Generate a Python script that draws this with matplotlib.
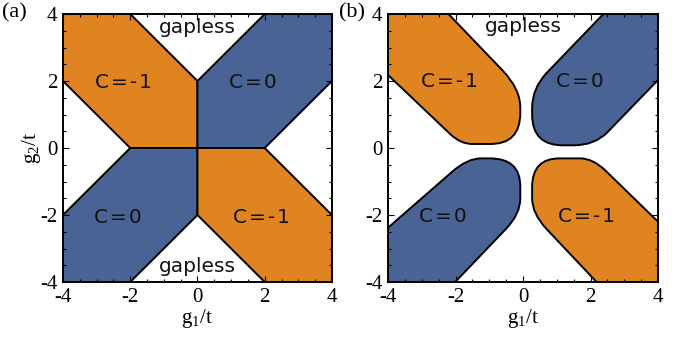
import numpy as np
import matplotlib
matplotlib.use("Agg")
import matplotlib.pyplot as plt
from matplotlib.path import Path
from matplotlib.patches import PathPatch

plt.rcParams['axes.unicode_minus'] = False
plt.rcParams['mathtext.fontset'] = 'custom'
plt.rcParams['mathtext.rm'] = 'Liberation Serif'
plt.rcParams['mathtext.it'] = 'Liberation Serif'

orange = '#E08421'
blue = '#4A6395'

# panel (a): phase regions, polygon corners in (g1/t, g2/t)
a_upper_left = [(-4, 4), (-2, 4), (0, 2), (0, 0), (-2, 0), (-4, 2)]
a_upper_right = [(0, 2), (2, 4), (4, 4), (4, 2), (2, 0), (0, 0)]
a_lower_left = [(-4, -2), (-2, 0), (0, 0), (0, -2), (-2, -4), (-4, -4)]
a_lower_right = [(0, 0), (2, 0), (4, -2), (4, -4), (2, -4), (0, -2)]

# panel (b): boundaries; a pair ((cx, cy), (x, y)) is a rounded corner
b_upper_left = [(-4, 4), (-2.21, 4), (-0.6, 2.31), ((-0.08, 1.76), (-0.08, 1.2)),
                (-0.08, 1.05), ((-0.08, 0.1), (-1.0, 0.12)), (-1.5, 0.12),
                ((-1.85, 0.12), (-2.15, 0.41)), (-4, 2.18)]
b_upper_right = [(4, 4), (4, 2.03), (2.5, 0.47), ((2.125, 0.08), (1.5, 0.08)),
                 (1.2, 0.08), ((0.27, 0.07), (0.27, 1.0)), (0.27, 1.2),
                 ((0.27, 1.78), (0.7, 2.24)), (2.38, 4)]
b_lower_left = [(-4, -4), (-4, -2.38), (-2.1, -0.71), ((-1.65, -0.31), (-1.25, -0.31)),
                (-1.0, -0.31), ((-0.08, -0.3), (-0.08, -1.15)), (-0.08, -1.5),
                ((-0.08, -1.97), (-0.5, -2.41)), (-2.01, -4)]
b_lower_right = [(4, -4), (2.18, -4), (0.7, -2.42), ((0.27, -1.96), (0.27, -1.5)),
                 (0.27, -1.15), ((0.28, -0.3), (1.1, -0.31)), (1.7, -0.31),
                 ((2.07, -0.31), (2.45, -0.68)), (4, -2.2)]

ticks = [-4, -2, 0, 2, 4]
minor_ticks = [-3.5, -3, -2.5, -1.5, -1, -0.5, 0.5, 1, 1.5, 2.5, 3, 3.5]

# text labels: (x, y, text)
a_labels = [(0, 3.6, 'gapless'), (0, -3.55, 'gapless'),
            (-2.2, 1.97, 'C\u200a=\u200a-\u200a1'), (1.66, 1.97, 'C\u200a=\u200a0'),
            (-2.36, -2.06, 'C\u200a=\u200a0'), (1.9, -2.06, 'C\u200a=\u200a-\u200a1')]
b_labels = [(0, 3.62, 'gapless'),
            (-2.18, 1.98, 'C\u200a=\u200a-\u200a1'), (1.69, 1.98, 'C\u200a=\u200a0'),
            (-2.36, -2.05, 'C\u200a=\u200a0'), (1.89, -2.05, 'C\u200a=\u200a-\u200a1')]


def smooth_path(pts):
    verts, codes = [], []
    for p in pts:
        if isinstance(p[0], tuple):
            verts += [p[0], p[1]]
            codes += [Path.CURVE3, Path.CURVE3]
        else:
            verts.append(p)
            codes.append(Path.MOVETO if not codes else Path.LINETO)
    verts.append(pts[0])
    codes.append(Path.CLOSEPOLY)
    return Path(verts, codes)


fig = plt.figure(figsize=(6.86, 3.44), dpi=100)
ax1 = fig.add_axes([0.0918, 0.1802, 0.3921, 0.7791])
ax2 = fig.add_axes([0.5656, 0.1802, 0.3936, 0.7791])

for reg, col in [(a_upper_left, orange), (a_upper_right, blue),
                 (a_lower_left, blue), (a_lower_right, orange)]:
    ax1.add_patch(plt.Polygon(reg, closed=True, facecolor=col,
                              edgecolor='black', lw=1.4, joinstyle='miter'))

for reg, col in [(b_upper_left, orange), (b_upper_right, blue),
                 (b_lower_left, blue), (b_lower_right, orange)]:
    ax2.add_patch(PathPatch(smooth_path(reg), facecolor=col,
                            edgecolor='black', lw=1.4))

for ax, labels in [(ax1, a_labels), (ax2, b_labels)]:
    ax.set_xlim(-4, 4)
    ax.set_ylim(-4, 4)
    ax.set_xticks(ticks)
    ax.set_yticks(ticks)
    ax.set_xticks(minor_ticks, minor=True)
    ax.set_yticks(minor_ticks, minor=True)
    ax.tick_params(which='both', direction='in', top=True, right=True,
                   width=0.8, labelsize=15, pad=4)
    ax.tick_params(which='major', length=4.5)
    ax.tick_params(which='minor', length=2.5)
    for lab in ax.get_xticklabels() + ax.get_yticklabels():
        lab.set_fontfamily('Liberation Serif')
    for s in ax.spines.values():
        s.set_linewidth(1.4)
        s.set_zorder(5)
    for x, y, t in labels:
        ax.text(x, y, t, ha='center', va='center', fontsize=14.5,
                family='DejaVu Sans', color='#111111')
    ax.set_xlabel('g$_1$/t', fontsize=15, family='Liberation Serif', labelpad=0)

ax1.set_ylabel('g$_2$/t', fontsize=15, family='Liberation Serif', labelpad=-2)

fig.text(0.003, 0.962, '(a)', fontsize=16, family='Liberation Serif', va='center')
fig.text(0.494, 0.962, '(b)', fontsize=16, family='Liberation Serif', va='center')

fig.savefig('out.png', dpi=100)
